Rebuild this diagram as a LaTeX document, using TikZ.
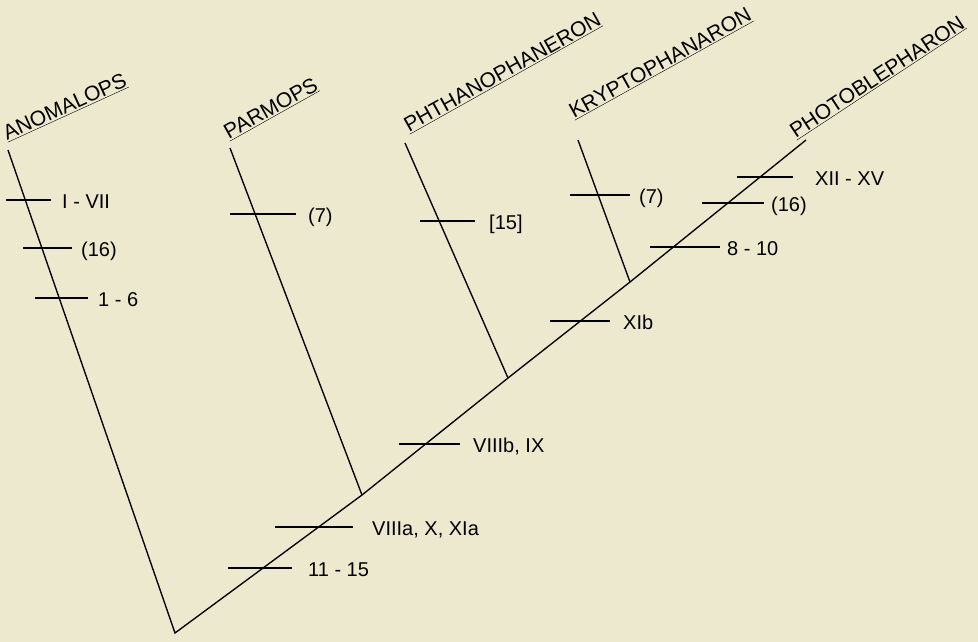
\documentclass[tikz,border=0pt]{standalone}
\usepackage{fontspec}
\setmainfont{Liberation Sans}
\definecolor{paper}{RGB}{237,233,206}
\begin{document}
\begin{tikzpicture}[x=1pt,y=-1pt,
  branch/.style={line width=1.35pt,line join=miter},
  tick/.style={line width=1.4pt},
  lbl/.style={anchor=base west,inner sep=0pt,font=\fontsize{20}{24}\selectfont},
  taxon/.style={anchor=south west,inner sep=0pt,font=\fontsize{21}{25}\selectfont}]
\fill[paper] (0,0) rectangle (978,642);
\useasboundingbox (0,0) rectangle (978,642);
% tree coordinates
\coordinate (root) at (175,633);
\coordinate (tA) at (8,150);
\coordinate (tP) at (230,148);
\coordinate (jP) at (362,495);
\coordinate (tPh) at (405,143);
\coordinate (jPh) at (508,378);
\coordinate (tK) at (578,140);
\coordinate (jK) at (630,282);
\coordinate (tPb) at (806,140);
% branches
\draw[branch] (tA) -- (root) -- (jP) -- (jPh) -- (jK) -- (tPb);
\draw[branch] (tP) -- (jP);
\draw[branch] (tPh) -- (jPh);
\draw[branch] (tK) -- (jK);
% taxon names
\node[taxon,rotate=24.5] (nA) at (8,143) {\underline{ANOMALOPS}};
\node[taxon,rotate=29.3] (nP) at (230,142) {\underline{PARMOPS}};
\node[taxon,rotate=29.3] (nPh) at (410,135) {\underline{PHTHANOPHANERON}};
\node[taxon,rotate=29] (nK) at (575,121) {\underline{KRYPTOPHANARON}};
\node[taxon,rotate=33.4] (nPb) at (797,141) {\underline{PHOTOBLEPHARON}};
% character ticks
\foreach \n/\xa/\xb/\y/\xl/\t in {
  a1/6/51/200/62/{I - VII},
  a2/23/72/248/81/{(16)},
  a3/35/88/298/98/{1 - 6},
  p1/230/296/214/308/{(7)},
  h1/420/475/221/489/{[15]},
  k1/570/630/195/639/{(7)},
  m1/228/292/568/308/{11 - 15},
  m2/275/353/527/372/{VIIIa, X, XIa},
  m3/399/460/444/473/{VIIIb, IX},
  m4/550/610/321/623/{XIb},
  m5/650/720/247/727/{8 - 10},
  m6/702/764/203/771/{(16)},
  m7/737/793/177/815/{XII - XV}}{
  \coordinate (\n-l) at (\xa,\y);
  \coordinate (\n-r) at (\xb,\y);
  \draw[tick] (\n-l) -- (\n-r);
  \node[lbl] (\n-t) at (\xl,\y+8) {\t};
}
\end{tikzpicture}
\end{document}
